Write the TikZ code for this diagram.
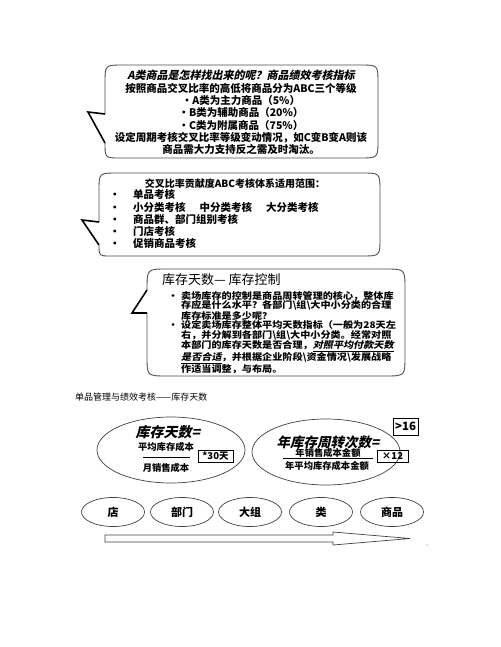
\documentclass[tikz,border=0pt]{standalone}
\usepackage{fontspec}
\setmainfont{Noto Sans CJK SC}
\newfontfamily\slantcjk[FakeSlant=0.22]{Noto Sans CJK SC}
\newfontfamily\widecjk[FakeStretch=1.1]{Noto Sans CJK SC}
\newfontfamily\wideslant[FakeStretch=1.1,FakeSlant=0.22]{Noto Sans CJK SC}
\usetikzlibrary{shapes.geometric}

\begin{document}
\begin{tikzpicture}[x=1pt,y=-1pt,
  bubble/.style={draw=black!70, line width=.9pt},
  wedge/.style={draw=black, line width=1.6pt},
  oval/.style={ellipse, draw=gray!50!black, line width=.7pt, inner sep=0pt},
  tagbox/.style={draw, line width=.7pt, inner sep=0pt, font=\bfseries\fontsize{9.5}{10}\selectfont},
  small/.style={inner sep=0pt, font=\bfseries\fontsize{9.3}{10}\selectfont},
  stage/.style={oval, minimum width=63pt, minimum height=29pt, font=\bfseries\fontsize{11}{12}\selectfont}]
\useasboundingbox (0,0) rectangle (500,647);

% callout: ABC grading
\draw[bubble] (105,114) -- (105,83) .. controls (105,65) .. (123,65) -- (360,65)
  .. controls (378,65) .. (378,83) -- (378,140) .. controls (378,158) .. (360,158)
  -- (120,158) .. controls (105,158) .. (105,143);
\draw[wedge] (105,143) -- (88,112) -- (105,114);
\node[inner sep=0pt, align=center, font=\bfseries\fontsize{10.5}{12.3}\selectfont] (abc) at (241,112.5) {%
  {\slantcjk\fontsize{11}{12.3}\selectfont A类商品是怎样找出来的呢？商品绩效考核指标}\\
  按照商品交叉比率的高低将商品分为ABC三个等级\\
  ·A类为主力商品（5\%）\hspace{14pt}\\
  ·B类为辅助商品（20\%）\hspace{14pt}\\
  ·C类为附属商品（75\%）\hspace{14pt}\\
  设定周期考核交叉比率等级变动情况，如C变B变A则该\\
  商品需大力支持反之需及时淘汰。};

% callout: scope of the ABC check
\draw[bubble] (99,222) -- (99,191) .. controls (99,173) .. (117,173) -- (362,173)
  .. controls (380,173) .. (380,191) -- (380,238) .. controls (380,256) .. (362,256)
  -- (110,256) .. controls (99,256) .. (99,245);
\draw[wedge] (99,245) -- (82,220) -- (99,222);
\node[inner sep=0pt, font=\bfseries\fontsize{10}{12}\selectfont] (scopehead) at (235,184) {交叉比率贡献度ABC考核体系适用范围：};
\node[inner sep=0pt, anchor=north west, align=left, font=\bfseries\fontsize{10.5}{12.2}\selectfont] (scope) at (133,189.5) {%
  \llap{•\hspace{13pt}}单品考核\\
  \llap{•\hspace{13pt}}小分类考核\hspace{14pt}中分类考核\hspace{14pt}大分类考核\\
  \llap{•\hspace{13pt}}商品群、部门组别考核\\
  \llap{•\hspace{13pt}}门店考核\\
  \llap{•\hspace{13pt}}促销商品考核};

% callout: stock days
\draw[bubble] (147,290) .. controls (147,269) .. (167,269) -- (385,269)
  .. controls (405,269) .. (405,289) -- (405,356) .. controls (405,376) .. (385,376)
  -- (167,376) .. controls (147,376) .. (147,356) -- (147,313);
\draw[wedge] (147,313) -- (132,313) -- (147,290);
\node[inner sep=0pt, anchor=west, font=\fontsize{13}{14}\selectfont] (stockhead) at (162,280) {库存天数— 库存控制};
\node[inner sep=0pt, anchor=north west, align=left, font=\widecjk\bfseries\fontsize{9.2}{9.5}\selectfont] (stock) at (181,291) {%
  \llap{•\hspace{3pt}}卖场库存的控制是商品周转管理的核心，整体库\\
  存应是什么水平？各部门\textbackslash 组\textbackslash 大中小分类的合理\\
  库存标准是多少呢？\\
  \llap{•\hspace{3pt}}设定卖场库存整体平均天数指标（一般为28天左\\
  右，并分解到各部门\textbackslash 组\textbackslash 大中小分类。经常对照\\
  本部门的库存天数是否合理，\underline{\wideslant 对照平均付款天数}\\
  \underline{\wideslant 是否合适}，并根据企业阶段\textbackslash 资金情况\textbackslash 发展战略\\
  作适当调整，与布局。};

\node[inner sep=0pt, anchor=west, font=\fontsize{9}{10}\selectfont] (caption) at (75,397) {单品管理与绩效考核——库存天数};

% stock days formula
\node[oval, minimum width=148pt, minimum height=66pt] (daysoval) at (171,450) {};
\node[inner sep=0pt, font=\slantcjk\bfseries\fontsize{14}{15}\selectfont] (daystitle) at (168,432) {库存天数=};
\node[small] (daysnum) at (166,447) {平均库存成本};
\draw[line width=.7pt] (143,457) -- (190,457);
\node[small] (daysden) at (166,468) {月销售成本};
\node[tagbox, minimum width=35pt, minimum height=12pt] (thirty) at (215.5,456) {*30天};

% turnover formula
\node[oval, minimum width=148pt, minimum height=66pt] (turnoval) at (326,452) {};
\node[inner sep=0pt, font=\slantcjk\bfseries\fontsize{13.5}{15}\selectfont] (turntitle) at (328,442) {年库存周转次数=};
\node[small] (turnnum) at (328,452.5) {年销售成本金额};
\draw[line width=.7pt] (283,458.5) -- (373,458.5);
\node[small] (turnden) at (327,466) {年平均库存成本金额};
\node[tagbox, minimum width=31pt, minimum height=12pt] (twelve) at (392.5,456) {×12};
\node[tagbox, minimum width=25pt, minimum height=17pt, font=\bfseries\fontsize{11.5}{12}\selectfont] (target) at (405.5,426.5) {>16};

% levels
\node[stage] (store) at (113,512) {店};
\node[stage] (dept) at (182,512) {部门};
\node[stage] (group) at (250,512) {大组};
\node[stage] (cls) at (321,512) {类};
\node[stage] (item) at (392,512) {商品};
\draw[draw=gray!50!black, line width=.7pt] (105,535) -- (333,535) -- (333,532) -- (410,538.5) -- (333,545) -- (333,542) -- (105,542) -- cycle;
\fill[gray] (427,545) circle (.6pt);
\end{tikzpicture}
\end{document}
